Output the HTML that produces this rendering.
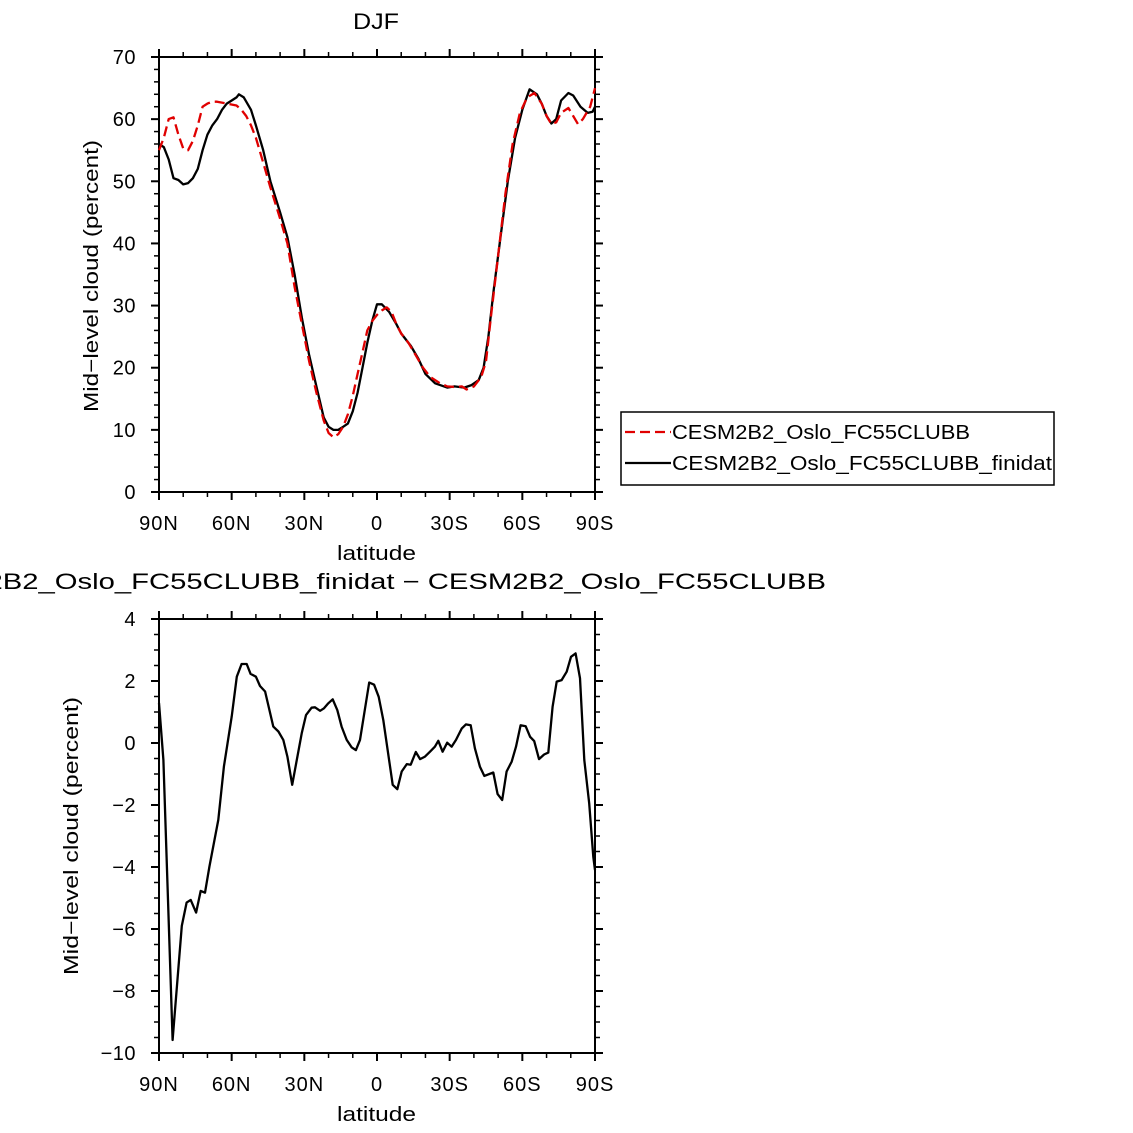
<!DOCTYPE html>
<html><head><meta charset="utf-8"><style>
html,body{margin:0;padding:0;background:#fff;}
svg{display:block;font-family:"Liberation Sans",sans-serif;}
</style></head><body>
<svg id="chart" width="1133" height="1133" viewBox="0 0 1133 1133" xmlns="http://www.w3.org/2000/svg">
<rect width="1133" height="1133" fill="#fff"/>
<g id="top"></g>
<g id="bot"></g>
</svg>
<script>
const xTickLats = [90, 60, 30, 0, -30, -60, -90];
const xTickLabels = ["90N", "60N", "30N", "0", "30S", "60S", "90S"];
const topYTicks = [0, 10, 20, 30, 40, 50, 60, 70];
const botYTicks = [-10, -8, -6, -4, -2, 0, 2, 4];
const botYLabels = ["\u221210", "\u22128", "\u22126", "\u22124", "\u22122", "0", "2", "4"];

const blackLat = [90,88,86,84,82,80,78,76,74,72,70,68,66,64,62,60,58,57,55,52,50,47,44,40,37,34,31,28,25,22,20,18,16,14,12,10,8,6,4,2,0,-2,-5,-8,-10,-14,-17,-20,-24,-29,-32,-36,-39,-42,-44,-46,-48,-51,-54,-57,-60,-63,-66,-68,-70,-72,-74,-76,-79,-81,-84,-87,-89,-90];
const blackVal = [56,55.5,53.5,50.5,50.2,49.5,49.7,50.5,52,55,57.5,59,60,61.5,62.5,63,63.5,64,63.5,61.5,59,55,50,45,41,35,28,22,17,12,10.5,10,10,10.5,11,13,16,20,24,27.5,30.2,30.2,29,27,25.5,23.5,21.5,19,17.5,16.8,17,16.8,17.2,18,20,25,32,41,50,57,61.5,64.8,64,62.5,60.5,59.3,60,63,64.2,63.8,62,61,61.2,62];

const redLat = [90,88,86,84,82,80,78,76,74,72,70,68,66,62,58,56,54,52,50,47,44,40,37,34,31,28,25,22,20,18,16,14,12,10,8,6,4,2,0,-2,-4,-6,-8,-10,-13,-16,-19,-22,-26,-29,-32,-35,-37,-40,-43,-45,-47,-50,-53,-56,-59,-62,-65,-68,-70,-72,-74,-76,-79,-81,-83,-85,-88,-90];
const redVal = [55,57,60,60.3,57.5,55.3,55,56.5,59,62,62.5,62.8,62.8,62.5,62.2,61.5,60.5,59,57,53,49,44,40,33,27,21,16,11.5,9.5,8.8,9.3,10.5,12.5,15.5,19,22.5,26,27.5,28.5,29.2,29.7,29,27,25.5,24,22,20,18.5,17.5,17,16.9,17,16.5,17,18.5,21,28,38,48,56,61,63.5,64.2,62.5,60.5,59.2,59.5,61,61.8,60.5,59.2,60,62,65];

const diffLat = [90,88.2,84.4,80.6,78.6,76.9,74.7,72.8,71,69.2,65.5,63.2,60,57.9,55.9,53.8,52.2,50,48.3,46.2,42.8,40.7,38.7,37,35,31.1,29.3,27,25.6,23.5,21.9,20.1,18.3,16.4,14.6,12.5,10.5,8.7,7,3.2,1.2,-0.7,-2.6,-6.5,-8.4,-10.2,-12.3,-13.9,-16,-17.8,-19.8,-21.9,-23.9,-25.3,-27.1,-29,-30.8,-32.6,-35,-36.7,-38.7,-40.4,-42.5,-44.3,-48,-49.8,-51.7,-53.5,-55.6,-57.4,-59.3,-61.4,-63.2,-64.9,-66.9,-69,-70.7,-72.5,-74.2,-76.2,-78.3,-80.1,-82,-83.8,-85.6,-87.6,-89.3,-90];
const diffVal = [1.29,-0.55,-9.58,-5.9,-5.15,-5.06,-5.47,-4.77,-4.83,-3.99,-2.48,-0.76,0.85,2.14,2.55,2.55,2.23,2.14,1.84,1.66,0.53,0.37,0.1,-0.44,-1.35,0.31,0.9,1.14,1.15,1.04,1.12,1.28,1.41,1.06,0.53,0.1,-0.14,-0.23,0.1,1.95,1.88,1.49,0.74,-1.35,-1.49,-0.92,-0.68,-0.7,-0.29,-0.52,-0.44,-0.28,-0.12,0.07,-0.28,0.01,-0.12,0.1,0.47,0.6,0.57,-0.17,-0.76,-1.06,-0.95,-1.65,-1.84,-0.92,-0.6,-0.12,0.57,0.54,0.2,0.06,-0.52,-0.37,-0.31,1.17,1.98,2.03,2.3,2.78,2.89,2.09,-0.55,-1.95,-3.67,-4.1];

const NS="http://www.w3.org/2000/svg";
function mk(parent, tag, attrs, text){
  const e=document.createElementNS(NS,tag);
  for(const k in attrs) e.setAttribute(k,attrs[k]);
  if(text!==undefined) e.textContent=text;
  parent.appendChild(e); return e;
}
const X0=159, X1=595;
function xs(lat){ return X0 + (90-lat)/180*(X1-X0); }

function panel(g, top, bottom, ymin, ymax, yticks, ylabels, minorStep, name){
  const ys = v => bottom - (v-ymin)/(ymax-ymin)*(bottom-top);
  for(let lat=90; lat>=-90; lat-=10){
    const x=xs(lat), major = lat%30===0, L = major?8:5;
    const t1=mk(g,'line',{x1:x,x2:x,y1:bottom,y2:bottom+L,stroke:'#000','stroke-width':major?2:1.5});
    
    
    const t2=mk(g,'line',{x1:x,x2:x,y1:top,y2:top-L,stroke:'#000','stroke-width':major?2:1.5});
    
    
  }
  const n=Math.round((ymax-ymin)/minorStep);
  for(let i=0;i<=n;i++){
    const v=ymin+i*minorStep, y=ys(v);
    const major = yticks.some(t=>Math.abs(t-v)<1e-6), L=major?8:5;
    const a=mk(g,'line',{x1:X0-L,x2:X0,y1:y,y2:y,stroke:'#000','stroke-width':major?2:1.5});
    
    
    const b=mk(g,'line',{x1:X1,x2:X1+L,y1:y,y2:y,stroke:'#000','stroke-width':major?2:1.5});
    
    
  }
  xTickLats.forEach((lat,i)=>{
    const t=mk(g,'text',{x:xs(lat),y:bottom+38,'font-size':20,'text-anchor':'middle','letter-spacing':1},xTickLabels[i]);
    
    
  });
  yticks.forEach((v,i)=>{
    const t=mk(g,'text',{x:136,y:ys(v)+7,'font-size':20,'text-anchor':'end','letter-spacing':0.5},ylabels[i]);
    
    
  });
  const fr=mk(g,'rect',{x:X0,y:top,width:X1-X0,height:bottom-top,fill:'none',stroke:'#000','stroke-width':2});
  
  
  const xl=mk(g,'text',{x:337,y:bottom+68,'font-size':20,textLength:79,lengthAdjust:'spacingAndGlyphs'},'latitude');
  
  
  return ys;
}
function line(g, lats, vals, ys, color, dash, name){
  const pts=lats.map((l,i)=>xs(l).toFixed(1)+','+ys(vals[i]).toFixed(1)).join(' ');
  const a={points:pts,fill:'none',stroke:color,'stroke-width':2.3,'stroke-linejoin':'round'};
  if(dash) a['stroke-dasharray']=dash;
  const p=mk(g,'polyline',a);
  
  
}

const gt=document.getElementById('top');
const ysT=panel(gt,57,492,0,70,topYTicks,topYTicks.map(String),2,'top');
line(gt,blackLat,blackVal,ysT,'#000',null,'series-finidat');
line(gt,redLat,redVal,ysT,'#e00000','10,5','series-fc55clubb');
const tt=mk(gt,'text',{x:353,y:29,'font-size':22,textLength:46,lengthAdjust:'spacingAndGlyphs'},'DJF');


const ya=mk(gt,'text',{x:-136,y:0,'font-size':20,textLength:272,lengthAdjust:'spacingAndGlyphs',transform:'translate(98,276) rotate(-90)'},'Mid\u2212level cloud (percent)');



const lg=mk(gt,'g',{});


mk(lg,'rect',{x:621,y:412,width:433,height:73,fill:'#fff',stroke:'#000','stroke-width':1.5});
const l1=mk(lg,'line',{x1:625,x2:671,y1:432,y2:432,stroke:'#e00000','stroke-width':2.3,'stroke-dasharray':'10,5'});


mk(lg,'text',{x:672,y:439,'font-size':20,textLength:298,lengthAdjust:'spacingAndGlyphs'},'CESM2B2_Oslo_FC55CLUBB');
const l2=mk(lg,'line',{x1:625,x2:671,y1:463,y2:463,stroke:'#000','stroke-width':2.3});


mk(lg,'text',{x:672,y:470,'font-size':20,textLength:380,lengthAdjust:'spacingAndGlyphs'},'CESM2B2_Oslo_FC55CLUBB_finidat');

const gb=document.getElementById('bot');
const ysB=panel(gb,619,1053,-10,4,botYTicks,botYLabels,0.5,'bottom');
line(gb,diffLat,diffVal,ysB,'#000',null,'series-difference');
const bt=mk(gb,'text',{x:-98,y:589,'font-size':22,textLength:924,lengthAdjust:'spacingAndGlyphs'},'CESM2B2_Oslo_FC55CLUBB_finidat \u2212 CESM2B2_Oslo_FC55CLUBB');


const yb=mk(gb,'text',{x:-139,y:0,'font-size':20,textLength:278,lengthAdjust:'spacingAndGlyphs',transform:'translate(78,836) rotate(-90)'},'Mid\u2212level cloud (percent)');


</script>
</body></html>
